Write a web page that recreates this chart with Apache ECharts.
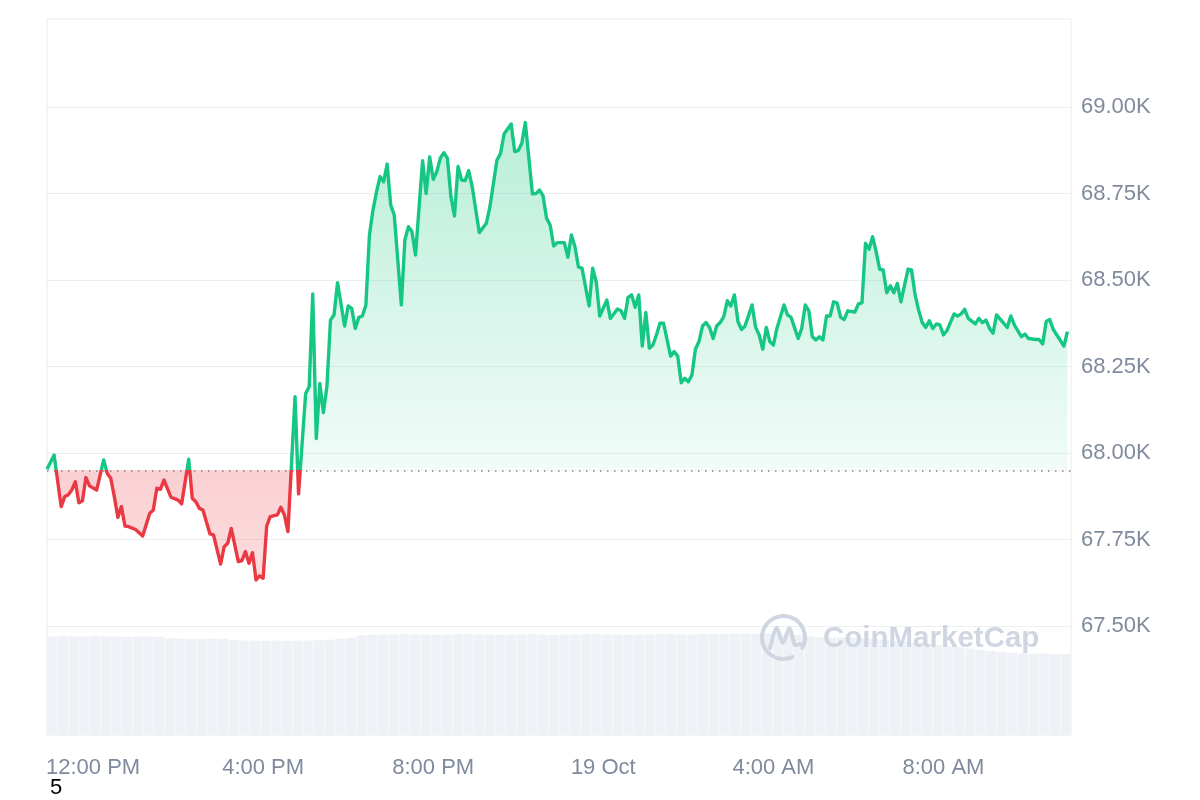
<!DOCTYPE html>
<html>
<head>
<meta charset="utf-8">
<script src="https://cdn.jsdelivr.net/npm/echarts@6.0.0/dist/echarts.min.js"></script>
<style>
  html, body { margin: 0; padding: 0; background: #ffffff; }
  #chart { width: 1200px; height: 800px; }
</style>
</head>
<body>
<div id="chart"></div>
<script>
// ---------- data ----------
const BASE_PRICE = 67950; // opening price of the 24h window (dotted line)

const TIMES = [
  '18 10:55','18 11:05','18 11:15','18 11:20','18 11:25','18 11:30','18 11:35','18 11:40','18 11:45','18 11:50',
  '18 11:55','18 12:05','18 12:15','18 12:20','18 12:25','18 12:30','18 12:35','18 12:40','18 12:45','18 12:50',
  '18 13:00','18 13:10','18 13:20','18 13:25','18 13:30','18 13:35','18 13:40','18 13:50','18 14:00','18 14:05',
  '18 14:15','18 14:20','18 14:25','18 14:30','18 14:35','18 14:45','18 14:50','18 15:00','18 15:05','18 15:10',
  '18 15:15','18 15:25','18 15:30','18 15:35','18 15:40','18 15:45','18 15:50','18 15:55','18 16:00','18 16:05',
  '18 16:10','18 16:20','18 16:25','18 16:30','18 16:35','18 16:45','18 16:50','18 17:00','18 17:05','18 17:10',
  '18 17:15','18 17:20','18 17:25','18 17:30','18 17:35','18 17:40','18 17:45','18 17:55','18 18:00','18 18:05',
  '18 18:10','18 18:15','18 18:20','18 18:25','18 18:30','18 18:35','18 18:40','18 18:45','18 18:50','18 18:55',
  '18 19:00','18 19:05','18 19:15','18 19:20','18 19:25','18 19:30','18 19:35','18 19:45','18 19:50','18 19:55',
  '18 20:00','18 20:05','18 20:10','18 20:15','18 20:20','18 20:25','18 20:30','18 20:35','18 20:40','18 20:45',
  '18 20:50','18 20:55','18 21:05','18 21:15','18 21:20','18 21:30','18 21:35','18 21:40','18 21:50','18 21:55',
  '18 22:00','18 22:05','18 22:10','18 22:20','18 22:25','18 22:30','18 22:35','18 22:40','18 22:45','18 22:50',
  '18 22:55','18 23:05','18 23:10','18 23:15','18 23:20','18 23:25','18 23:30','18 23:40','18 23:45','18 23:50',
  '18 23:55','19 00:05','19 00:10','19 00:20','19 00:25','19 00:30','19 00:35','19 00:40','19 00:45','19 00:50',
  '19 00:55','19 01:00','19 01:05','19 01:10','19 01:15','19 01:20','19 01:25','19 01:35','19 01:40','19 01:45',
  '19 01:50','19 01:55','19 02:00','19 02:05','19 02:10','19 02:15','19 02:20','19 02:25','19 02:30','19 02:35',
  '19 02:40','19 02:45','19 02:50','19 02:55','19 03:00','19 03:05','19 03:10','19 03:15','19 03:20','19 03:30',
  '19 03:35','19 03:40','19 03:45','19 03:50','19 03:55','19 04:00','19 04:05','19 04:15','19 04:20','19 04:25',
  '19 04:35','19 04:40','19 04:45','19 04:50','19 04:55','19 05:00','19 05:05','19 05:10','19 05:15','19 05:20',
  '19 05:25','19 05:30','19 05:35','19 05:40','19 05:45','19 05:55','19 06:00','19 06:05','19 06:10','19 06:15',
  '19 06:20','19 06:25','19 06:30','19 06:35','19 06:40','19 06:45','19 06:50','19 06:55','19 07:00','19 07:10',
  '19 07:15','19 07:20','19 07:25','19 07:30','19 07:35','19 07:40','19 07:45','19 07:50','19 07:55','19 08:00',
  '19 08:05','19 08:15','19 08:20','19 08:25','19 08:30','19 08:35','19 08:45','19 08:50','19 08:55','19 09:00',
  '19 09:05','19 09:10','19 09:15','19 09:30','19 09:35','19 09:40','19 09:50','19 09:55','19 10:00','19 10:10',
  '19 10:15','19 10:20','19 10:25','19 10:30','19 10:35','19 10:40','19 10:50','19 10:55'
];

const PRICES = [
  67953,67994,67845,67874,67879,67893,67917,67856,67862,67929,
  67905,67893,67980,67941,67927,67874,67814,67845,67789,67787,
  67779,67760,67826,67835,67898,67895,67922,67872,67864,67853,
  67982,67869,67859,67840,67835,67766,67763,67679,67729,67739,
  67782,67686,67689,67715,67681,67712,67633,67645,67638,67789,
  67816,67821,67843,67821,67773,68163,67882,68172,68192,68460,
  68042,68201,68117,68192,68384,68399,68492,68367,68425,68418,
  68360,68392,68396,68428,68630,68702,68755,68799,68784,68835,
  68717,68688,68428,68616,68654,68640,68572,68845,68750,68856,
  68791,68813,68852,68868,68852,68741,68685,68828,68789,68787,
  68816,68770,68637,68664,68712,68847,68866,68922,68951,68871,
  68874,68895,68955,68749,68750,68760,68743,68678,68659,68598,
  68608,68608,68566,68630,68596,68537,68534,68425,68534,68495,
  68396,68442,68389,68416,68411,68389,68450,68457,68421,68457,
  68309,68406,68303,68312,68341,68375,68375,68280,68293,68280,
  68203,68216,68206,68225,68300,68322,68367,68377,68363,68331,
  68367,68377,68394,68440,68425,68457,68380,68357,68367,68428,
  68363,68341,68300,68363,68322,68312,68360,68428,68399,68392,
  68331,68360,68428,68411,68336,68327,68336,68327,68396,68396,
  68437,68433,68392,68386,68411,68407,68431,68434,68606,68589,
  68625,68582,68531,68529,68463,68483,68463,68490,68437,68531,
  68529,68457,68413,68377,68363,68382,68360,68373,68370,68341,
  68354,68402,68396,68402,68415,68389,68373,68389,68377,68384,
  68360,68346,68399,68363,68396,68370,68336,68344,68331,68328,
  68328,68315,68380,68386,68357,68341,68309,68351
];

// 24h volume (billions USD), one value per 15-minute bucket starting 18 Oct 10:55
const VOLUME_START = '18 10:55';
const VOLUME_STEP_MIN = 15;
const VOLUMES = [
  33.0,33.1,33.0,33.0,33.1,33.0,33.0,32.9,33.0,33.0,32.9,
  32.4,32.3,32.3,32.2,32.3,32.2,
  31.8,31.7,31.7,31.6,31.7,31.6,31.7,31.7,31.8,31.9,
  32.3,32.6,
  33.4,33.6,33.7,33.7,33.8,33.7,33.7,33.6,33.7,33.8,33.8,33.7,33.7,33.6,33.7,33.7,33.8,33.7,
  33.6,33.7,33.7,33.8,33.8,33.7,33.7,33.6,33.7,33.7,33.8,33.8,33.7,33.7,33.8,33.9,33.9,34.0,
  34.0,34.0,34.1,34.0,33.9,33.6,
  33.0,32.8,32.7,32.7,32.6,32.5,
  32.2,31.9,31.6,31.3,31.0,30.6,30.2,29.8,29.4,29.0,28.6,28.2,
  27.8,27.5,27.4,27.3,27.3,27.2,27.2
];

const AXIS_START = '18 10:55';
const AXIS_END = '19 11:00';
const PRICE_MIN = 67500, PRICE_MAX = 69000, PRICE_STEP = 250;

// ---------- helpers ----------
function parseT(s) {
  const [d, hm] = s.split(' ');
  const [h, m] = hm.split(':').map(Number);
  return new Date(2024, 9, Number(d), h, m).getTime();
}
const GREEN = '#16c784', RED = '#ea3943';
const FONT = "'Liberation Sans', Arial, Helvetica, sans-serif";
const LABEL_COLOR = '#808a9d';
const WM_COLOR = '#cfd6e2';

const priceData = TIMES.map((t, i) => [parseT(t), PRICES[i]]);
const volStart = parseT(VOLUME_START);
const volCategories = VOLUMES.map((v, i) => {
  const d = new Date(volStart + i * VOLUME_STEP_MIN * 60000);
  return d.getDate() + ' ' + String(d.getHours()).padStart(2, '0') + ':' + String(d.getMinutes()).padStart(2, '0');
});

const maxP = Math.max(...PRICES), minP = Math.min(...PRICES);
const f = (maxP - BASE_PRICE) / (maxP - minP);

const xMin = parseT(AXIS_START), xMax = parseT(AXIS_END);
const FOUR_H = 4 * 3600 * 1000;

function timeLabel(v) {
  const d = new Date(v);
  if (d.getMinutes() !== 0) return '';
  const h = d.getHours();
  if (h % 4 !== 0) return '';
  if (h === 0) return d.getDate() + ' Oct';
  const h12 = h % 12 || 12;
  return h12 + ':00 ' + (h < 12 ? 'AM' : 'PM');
}

const chart = echarts.init(document.getElementById('chart'), null, { renderer: 'canvas' });

chart.setOption({
  animation: false,
  backgroundColor: '#ffffff',
  textStyle: { fontFamily: FONT },
  grid: [
    { // price grid
      left: 47, right: 129, top: 107, bottom: 174,
      outerBoundsMode: 'none', containLabel: false
    },
    { // frame + volume grid
      left: 47, right: 129, top: 19, bottom: 65,
      show: true, borderColor: '#eaecef', borderWidth: 1, backgroundColor: 'transparent',
      outerBoundsMode: 'none', containLabel: false
    }
  ],
  xAxis: [
    {
      // time axis of the price grid; its labels are pushed down below the volume band
      type: 'time', gridIndex: 0, min: xMin, max: xMax,
      minInterval: FOUR_H, maxInterval: FOUR_H,
      axisLine: { show: false }, axisTick: { show: false },
      splitLine: { show: false },
      axisLabel: {
        show: true, formatter: timeLabel, color: LABEL_COLOR,
        fontSize: 22, fontFamily: FONT, margin: 131,
        showMinLabel: false, showMaxLabel: false, hideOverlap: false
      }
    },
    {
      type: 'category', gridIndex: 1, data: volCategories, boundaryGap: true,
      axisLine: { show: false }, axisTick: { show: false },
      splitLine: { show: false }, axisLabel: { show: false }
    }
  ],
  yAxis: [
    {
      type: 'value', gridIndex: 0, position: 'right',
      min: PRICE_MIN, max: PRICE_MAX, interval: PRICE_STEP,
      axisLine: { show: false }, axisTick: { show: false },
      splitLine: { show: true, lineStyle: { color: '#eceef1', width: 1 } },
      axisLabel: {
        color: LABEL_COLOR, fontSize: 22, fontFamily: FONT, margin: 10,
        formatter: v => (v / 1000).toFixed(2) + 'K'
      }
    },
    {
      type: 'value', gridIndex: 1, min: 0, max: 240,
      show: false, splitLine: { show: false }
    }
  ],
  visualMap: {
    show: false, type: 'piecewise', seriesIndex: 0, dimension: 1,
    pieces: [
      { gt: BASE_PRICE, lte: 100000, color: GREEN },
      { gte: 50000, lte: BASE_PRICE, color: RED }
    ]
  },
  series: [
    {
      name: 'Price', type: 'line', xAxisIndex: 0, yAxisIndex: 0,
      data: priceData, symbol: 'none', showSymbol: false, z: 5,
      lineStyle: { width: 3.4, join: 'round' },
      areaStyle: {
        origin: BASE_PRICE, opacity: 1,
        color: new echarts.graphic.LinearGradient(0, 0, 0, 1, [
          { offset: 0, color: 'rgba(22,199,132,0.30)' },
          { offset: f, color: 'rgba(22,199,132,0.06)' },
          { offset: f, color: 'rgba(234,57,67,0.24)' },
          { offset: 1, color: 'rgba(234,57,67,0.17)' }
        ])
      },
      markLine: {
        silent: true, symbol: 'none', label: { show: false },
        lineStyle: { type: [1.5, 5.5], width: 1.5, color: '#7d8594' },
        data: [{ yAxis: BASE_PRICE }]
      }
    },
    {
      name: 'Volume', type: 'bar', xAxisIndex: 1, yAxisIndex: 1,
      data: VOLUMES, barWidth: '94%', z: 1,
      itemStyle: { color: '#eef1f5' },
      emphasis: { disabled: true }
    }
  ],
  graphic: [
    {
      type: 'text', x: 50, y: 788, z: 100,
      style: { text: '5', fill: '#000000', font: "22px 'Liberation Sans', Arial, sans-serif", verticalAlign: 'middle' }
    },
    {
      type: 'arc', z: 100, silent: true,
      shape: { cx: 783.5, cy: 637.5, r: 21.5, startAngle: 1.15, endAngle: 0.5 + Math.PI * 2, clockwise: true },
      style: { stroke: WM_COLOR, lineWidth: 4, fill: null, lineCap: 'round' }
    },
    {
      type: 'polyline', z: 100, silent: true,
      shape: {
        points: [[770, 648], [776.5, 628], [783, 643], [789.5, 628], [795, 645], [800, 644]],
        smooth: 0.25
      },
      style: { stroke: WM_COLOR, lineWidth: 4, fill: null, lineCap: 'round', lineJoin: 'round' }
    },
    {
      type: 'text', x: 823, y: 639, z: 100, silent: true,
      style: {
        text: 'CoinMarketCap', fill: WM_COLOR,
        font: "bold 29.5px 'Liberation Sans', Arial, sans-serif",
        verticalAlign: 'middle', align: 'left'
      }
    }
  ]
});
</script>
</body>
</html>
